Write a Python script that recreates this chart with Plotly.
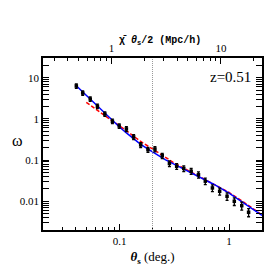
import math
import plotly.graph_objects as go

# measured points
theta = [0.0403, 0.0461, 0.0540, 0.0628, 0.0734, 0.0861, 0.0993, 0.1155, 0.1345, 0.156,
         0.1817, 0.2105, 0.2455, 0.2855, 0.3325, 0.386, 0.451, 0.526, 0.607, 0.705,
         0.821, 0.959, 1.117, 1.306, 1.509]
omega = [6.27, 4.24, 3.03, 2.02, 1.31, 0.873, 0.671, 0.568, 0.363, 0.232,
         0.178, 0.184, 0.127, 0.0824, 0.0705, 0.0623, 0.0536, 0.0438, 0.0307, 0.0210,
         0.01746, 0.01319, 0.00997, 0.0078, 0.0054]
omega_err = [0.75, 0.5, 0.37, 0.25, 0.16, 0.11, 0.085, 0.075, 0.048, 0.031,
             0.025, 0.026, 0.018, 0.013, 0.011, 0.010, 0.009, 0.0075, 0.0055, 0.004,
             0.0034, 0.0027, 0.0021, 0.0017, 0.0012]

# blue solid model
blue_theta = [0.0396, 0.0461, 0.0540, 0.0628, 0.0734, 0.0861, 0.0993, 0.1155, 0.1345, 0.156,
              0.1854, 0.213, 0.261, 0.321, 0.394, 0.484, 0.607, 0.730, 0.993, 1.352, 1.663, 2.0]
blue_omega = [6.63, 4.49, 3.03, 2.05, 1.35, 0.912, 0.641, 0.454, 0.324, 0.241,
              0.178, 0.142, 0.102, 0.0771, 0.059, 0.0446, 0.0322, 0.0255, 0.0160, 0.00933, 0.00649, 0.00451]

# red dashed model
red_theta = [0.0497, 0.0619, 0.0843, 0.1148, 0.156, 0.204, 0.261, 0.321, 0.394, 0.484,
             0.607, 0.730, 0.993, 1.352, 1.663, 2.0]
red_omega = [2.52, 1.64, 0.922, 0.521, 0.282, 0.180, 0.115, 0.0824, 0.0614, 0.0458,
             0.0332, 0.0262, 0.0165, 0.0096, 0.00664, 0.00465]

theta_split = 0.2
x_range = [0.02, 2.0]
y_range = [0.002, 30.0]
top_factor = 11.86  # chi/2 conversion for the top axis

SERIF = "Liberation Serif"

fig = go.Figure()
fig.add_trace(go.Scatter(x=red_theta, y=red_omega, mode="lines",
                         line=dict(color="#ff0000", width=1.5, dash="4px,2px"), showlegend=False))
fig.add_trace(go.Scatter(x=blue_theta, y=blue_omega, mode="lines",
                         line=dict(color="#0000ff", width=1.5), showlegend=False))
fig.add_trace(go.Scatter(x=theta, y=omega, mode="markers",
                         marker=dict(symbol="square", size=3.5, color="black"),
                         error_y=dict(type="data", array=omega_err, color="black",
                                      thickness=1.3, width=1.5),
                         showlegend=False))
# invisible trace to activate the top axis
fig.add_trace(go.Scatter(x=[1], y=[1], xaxis="x2", mode="markers",
                         marker=dict(opacity=0), showlegend=False, hoverinfo="skip"))

fig.add_shape(type="line", x0=theta_split, x1=theta_split, y0=0, y1=1,
              xref="x", yref="paper", line=dict(color="#999999", width=1, dash="1px,1px"))

tickfont = dict(family=SERIF, size=11, color="black")
common = dict(showline=True, linecolor="black", linewidth=1.5, ticks="inside",
              ticklen=6, tickcolor="black", tickwidth=1, showgrid=False, zeroline=False,
              tickfont=tickfont,
              minor=dict(ticks="inside", ticklen=3, tickcolor="black", tickwidth=1,
                         dtick="D1", showgrid=False))

fig.update_layout(
    width=277, height=277,
    margin=dict(l=30, r=23, t=50, b=55),
    paper_bgcolor="white", plot_bgcolor="white",
    xaxis=dict(type="log", range=[math.log10(x_range[0]), math.log10(x_range[1])],
               tickvals=[0.1, 1], ticktext=["0.1", "1"], mirror=True,
               title=dict(text="<b><i>θ</i><sub>s</sub></b> (deg.)",
                          font=dict(family=SERIF, size=13, color="black"), standoff=6),
               **common),
    xaxis2=dict(type="log", overlaying="x", side="top",
                range=[math.log10(x_range[0] * top_factor), math.log10(x_range[1] * top_factor)],
                tickvals=[1, 10], ticktext=["1", "10"], **common),
    yaxis=dict(type="log", range=[math.log10(y_range[0]), math.log10(y_range[1])],
               tickvals=[0.01, 0.1, 1, 10], ticktext=["0.01", "0.1", "1", "10"],
               mirror="allticks", **common),
    annotations=[
        dict(text="z=0.51", x=0.96, y=0.89, xref="paper", yref="paper",
             xanchor="right", yanchor="middle", showarrow=False,
             font=dict(family=SERIF, size=15, color="black")),
        dict(text="<b>χ̄ <i>θ</i><sub>s</sub>/2 (Mpc/h)</b>", x=0.536, y=1.099,
             xref="paper", yref="paper", xanchor="center", yanchor="middle",
             showarrow=False, font=dict(family="Liberation Mono", size=10, color="black")),
        dict(text="ω", x=-0.116, y=0.523, xref="paper", yref="paper",
             xanchor="center", yanchor="middle", showarrow=False,
             font=dict(family=SERIF, size=16, color="black")),
    ],
)

fig.write_html("out.html")
